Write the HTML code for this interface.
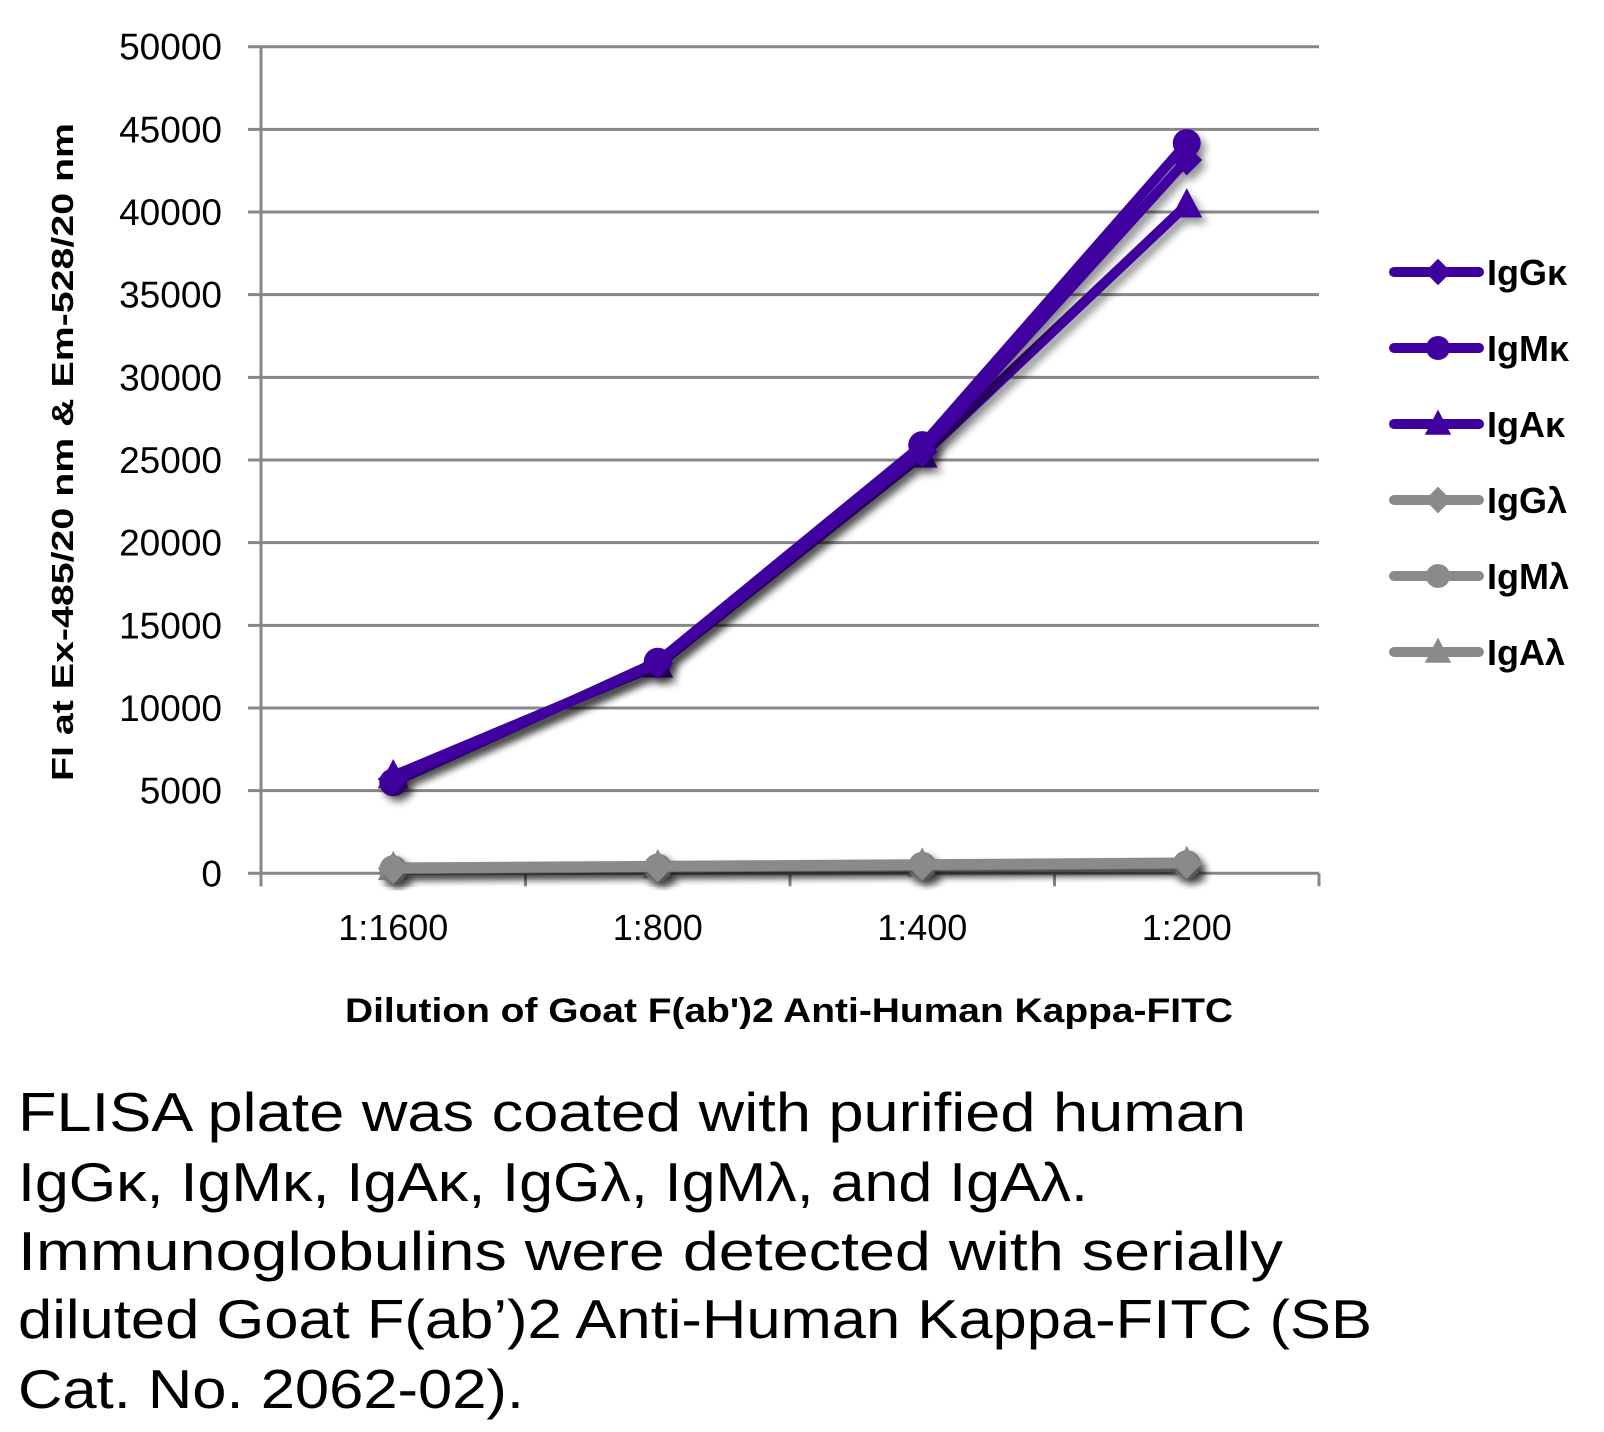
<!DOCTYPE html>
<html><head><meta charset="utf-8"><style>
html,body{margin:0;padding:0;background:#fff;}
svg{display:block;}
</style></head><body>
<svg id="chart" width="1604" height="1432" viewBox="0 0 1604 1432" xmlns="http://www.w3.org/2000/svg" font-family="'Liberation Sans', sans-serif">
<defs>
<filter id="sh" x="-20%" y="-20%" width="140%" height="140%">
<feGaussianBlur in="SourceAlpha" stdDeviation="4"/>
<feOffset dx="5" dy="6" result="o"/>
<feComponentTransfer><feFuncA type="linear" slope="0.4"/></feComponentTransfer>
<feMerge><feMergeNode/><feMergeNode in="SourceGraphic"/></feMerge>
</filter>
</defs>
<g id="grid"></g>
<g id="yticks" font-size="37" text-anchor="end" fill="#000"></g>
<g id="xaxis"></g>
<g id="series"></g>
<g id="legend"></g>
<text transform="translate(73,452) rotate(-90)" text-anchor="middle" font-size="31" font-weight="bold" textLength="658" lengthAdjust="spacingAndGlyphs">FI at Ex-485/20 nm &amp; Em-528/20 nm</text>
<text x="345" y="1022" font-size="34" font-weight="bold" textLength="888" lengthAdjust="spacingAndGlyphs">Dilution of Goat F(ab')2 Anti-Human Kappa-FITC</text>
<g font-size="55" fill="#000">
<text x="18" y="1131" textLength="1228" lengthAdjust="spacingAndGlyphs">FLISA plate was coated with purified human</text>
<text x="18" y="1201" textLength="1070" lengthAdjust="spacingAndGlyphs">IgGκ, IgMκ, IgAκ, IgGλ, IgMλ, and IgAλ.</text>
<text x="18" y="1270" textLength="1265" lengthAdjust="spacingAndGlyphs">Immunoglobulins were detected with serially</text>
<text x="18" y="1338" textLength="1354" lengthAdjust="spacingAndGlyphs">diluted Goat F(ab’)2 Anti-Human Kappa-FITC (SB</text>
<text x="18" y="1408" textLength="506" lengthAdjust="spacingAndGlyphs">Cat. No. 2062-02).</text>
</g>
</svg>
<script>
const categories = ['1:1600','1:800','1:400','1:200'];
const yTicks = [0,5000,10000,15000,20000,25000,30000,35000,40000,45000,50000];
const seriesNames = ['IgGκ','IgMκ','IgAκ','IgGλ','IgMλ','IgAλ'];
const igGk = [5700,12700,25500,43150];
const igMk = [5500,12800,25900,44170];
const igAk = [5900,12600,25300,40430];
const igGl = [300,400,500,600];
const igMl = [250,350,450,550];
const igAl = [350,450,550,650];
const seriesValues = [igGk, igMk, igAk, igGl, igMl, igAl];

const NS='http://www.w3.org/2000/svg';
const PURPLE='#3f00a0', GRAY='#8a8a8a';
const colors=[PURPLE,PURPLE,PURPLE,GRAY,GRAY,GRAY];
const shapes=['diamond','circle','triangle','diamond','circle','triangle'];
const X0=261, X1=1319, Y0=873.3, Y1=46.7, YMAX=50000;
const band=(X1-X0)/categories.length;
function xs(i){return X0+band*(i+0.5);}
function ys(v){return Y0-(v/YMAX)*(Y0-Y1);}
function mk(tag,attrs,parent){const e=document.createElementNS(NS,tag);for(const k in attrs)e.setAttribute(k,attrs[k]);parent.appendChild(e);return e;}
function marker(shape,cx,cy,s,color,parent){
  if(shape==='circle') return mk('circle',{cx:cx,cy:cy,r:s,fill:color},parent);
  if(shape==='diamond') return mk('polygon',{points:`${cx},${cy-s*1.1} ${cx+s*1.1},${cy} ${cx},${cy+s*1.1} ${cx-s*1.1},${cy}`,fill:color},parent);
  return mk('polygon',{points:`${cx},${cy-s*1.2} ${cx+s*1.1},${cy+s*0.9} ${cx-s*1.1},${cy+s*0.9}`,fill:color},parent);
}
const grid=document.getElementById('grid');
const yt=document.getElementById('yticks');
yTicks.forEach(v=>{
  const l=mk('line',{x1:248,x2:X1,y1:ys(v),y2:ys(v),stroke:'#878787','stroke-width':3},grid);
  
  
  const t=mk('text',{x:222,y:ys(v)+13},yt);
  t.textContent=String(v);
  
  
});
const xa=document.getElementById('xaxis');
const ax=mk('line',{x1:X0,x2:X0,y1:Y1,y2:Y0+13,stroke:'#878787','stroke-width':3},xa);


for(let i=0;i<=categories.length;i++){
  const tk=mk('line',{x1:X0+band*i,x2:X0+band*i,y1:Y0,y2:Y0+13,stroke:'#878787','stroke-width':3},xa);
  
  
}
categories.forEach((c,i)=>{
  const t=mk('text',{x:xs(i),y:940,'font-size':36,'text-anchor':'middle'},xa);
  t.textContent=c;
  
  
});
const sg=document.getElementById('series');
for(let s=seriesValues.length-1;s>=0;s--){
  const g=mk('g',{filter:'url(#sh)'},sg);
  
  
  const pts=seriesValues[s].map((v,i)=>xs(i)+','+ys(v)).join(' ');
  const pl=mk('polyline',{points:pts,fill:'none',stroke:colors[s],'stroke-width':10,'stroke-linejoin':'round','stroke-linecap':'round'},g);
  
  
  seriesValues[s].forEach((v,i)=>{
    const m=marker(shapes[s],xs(i),ys(v),14,colors[s],g);
    
    
  });
}
const lg=document.getElementById('legend');
seriesNames.forEach((n,i)=>{
  const y=272+i*76;
  const g=mk('g',{},lg);
  
  
  mk('line',{x1:1394,x2:1479,y1:y,y2:y,stroke:colors[i],'stroke-width':10,'stroke-linecap':'round'},g);
  marker(shapes[i],1438,y,12,colors[i],g);
  const t=mk('text',{x:1487,y:y+13,'font-size':36,'font-weight':'bold'},g);
  t.textContent=n;
});
</script>
</body></html>
